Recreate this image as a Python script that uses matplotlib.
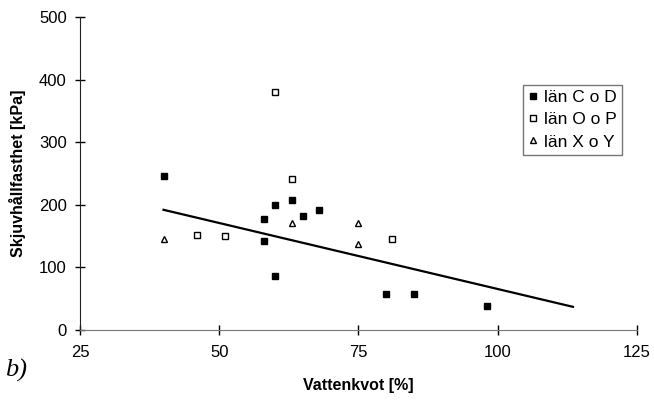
import matplotlib.pyplot as plt

plt.rcParams['font.family'] = ['Liberation Sans', 'DejaVu Sans']

# län C o D
cd_x = [40, 58, 58, 60, 60, 63, 65, 68, 80, 85, 98]
cd_y = [246, 177, 142, 200, 86, 208, 182, 192, 57, 57, 38]
# län O o P
op_x = [46, 51, 60, 63, 81]
op_y = [152, 150, 380, 241, 146]
# län X o Y
xy_x = [40, 63, 75, 75]
xy_y = [145, 171, 171, 137]
# trend line
trend_x = [40, 113.5]
trend_y = [192, 37]

xticks = [25, 50, 75, 100, 125]
yticks = [0, 100, 200, 300, 400, 500]

fig = plt.figure(figsize=(6.54, 4.0), dpi=100)
ax = fig.add_axes([0.1223, 0.175, 0.8517, 0.7825])

ax.plot(cd_x, cd_y, 's', color='black', markersize=5, label='län C o D', clip_on=False)
ax.plot(op_x, op_y, 's', mfc='white', mec='black', mew=1, markersize=5, label='län O o P', clip_on=False)
ax.plot(xy_x, xy_y, '^', mfc='white', mec='black', mew=1, markersize=5, label='län X o Y', clip_on=False)
ax.plot(trend_x, trend_y, '-', color='black', lw=1.6)

ax.set_xlim(25, 125)
ax.set_ylim(0, 500)
ax.set_xticks(xticks)
ax.set_yticks(yticks)
ax.tick_params(direction='inout', length=7, width=1, labelsize=12, colors='black')
ax.tick_params(axis='x', pad=7)
ax.tick_params(axis='y', pad=6)
for s in ['top', 'right']:
    ax.spines[s].set_visible(False)
ax.spines['left'].set_color('#222222')
ax.spines['bottom'].set_color('#777777')

ax.set_xlabel('Vattenkvot [%]', fontsize=11.5, fontweight='bold', labelpad=13)
ax.set_ylabel('Skjuvhållfasthet [kPa]', fontsize=11.5, fontweight='bold', labelpad=9)

leg = ax.legend(loc='upper left', bbox_to_anchor=(0.7997, 0.7875), bbox_transform=fig.transFigure,
                frameon=True, fancybox=False, edgecolor='#555555', fontsize=12.5,
                handlelength=0.6, handletextpad=0.3, borderpad=0.3, labelspacing=0.4,
                borderaxespad=0)
leg.get_frame().set_linewidth(1)

fig.text(0.008, 0.0575, 'b)', fontsize=19, style='italic', family='Liberation Serif')

plt.savefig('out.png')
plt.close()
